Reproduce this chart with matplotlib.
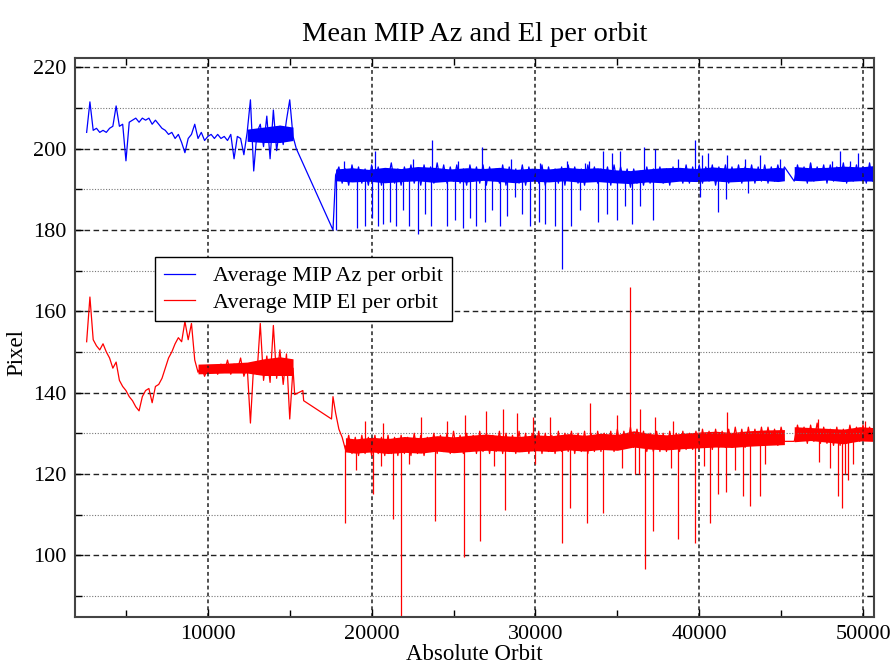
import numpy as np
import matplotlib
matplotlib.use('Agg')
import matplotlib.pyplot as plt
from matplotlib.ticker import MultipleLocator

plt.rcParams['font.family'] = ['Liberation Serif', 'DejaVu Serif']

# orbit sampling: one mean value every 200 orbits, data gaps left out
early_orbits = np.arange(2600, 15201, 200)
late_orbits_a = np.arange(17800, 45201, 200)
late_orbits_b = np.arange(45800, 50601, 200)

# ---- mean MIP azimuth (pixel) ----
az_early = [
    204.0, 211.5, 204.5, 205.0, 204.0, 204.5, 204.0, 205.0, 205.5, 210.5,
    205.5, 206.0, 197.0, 206.5, 207.0, 207.5, 206.5, 207.5, 207.0, 207.5,
    206.0, 207.0, 206.0, 205.0, 204.5, 203.5, 204.0, 202.5, 203.5, 201.5,
    199.0, 202.5, 203.5, 206.0, 202.5, 204.0, 202.0, 203.0, 203.5, 202.5,
    203.5, 202.5, 203.0, 202.0, 203.5, 197.5, 203.0, 202.5, 198.5, 204.0,
    212.0, 194.5, 204.0, 206.0, 200.5, 208.0, 197.5, 209.5, 199.5, 205.5,
    201.0, 207.0, 212.0, 203.0,
]
az_bridge_orbits = [15400, 17640]
az_bridge = [200.0, 180.0]
az_late_a = [
    193.5, 195.5, 191.5, 195.0, 191.0, 196.0, 192.0, 195.5, 191.5, 195.0,
    191.0, 196.0, 192.0, 195.5, 191.0, 195.0, 192.5, 196.5, 191.5, 195.0,
    191.0, 195.5, 192.0, 196.0, 191.5, 195.0, 191.0, 196.0, 192.0, 195.5,
    191.5, 196.5, 192.0, 196.0, 191.5, 195.5, 192.0, 196.0, 191.5, 195.0,
    191.0, 196.0, 192.0, 195.5, 191.5, 196.0, 191.0, 195.5, 192.0, 195.0,
    191.5, 196.0, 191.0, 195.5, 192.0, 195.0, 191.5, 196.0, 191.0, 195.5,
    192.0, 195.0, 191.5, 196.0, 191.0, 195.5, 192.0, 195.0, 191.5, 195.5,
    191.0, 196.0, 192.0, 195.5, 191.5, 195.0, 191.0, 196.0, 192.0, 195.5,
    191.5, 195.0, 192.0, 195.5, 191.0, 196.0, 191.5, 195.5, 192.0, 195.0,
    190.5, 195.0, 191.5, 194.5, 191.0, 195.5, 191.5, 195.0, 192.0, 195.5,
    191.5, 195.0, 191.0, 195.5, 192.0, 195.0, 191.5, 196.0, 191.5, 195.5,
    192.0, 196.0, 191.5, 195.5, 192.0, 196.0, 191.0, 195.5, 192.0, 196.0,
    191.5, 195.5, 192.0, 196.0, 191.5, 195.5, 192.0, 196.0, 191.5, 195.5,
    192.0, 196.0, 191.5, 195.5, 192.0, 196.0, 192.5, 195.5,
]
az_late_b = [
    192.0, 196.0, 192.5, 195.5, 191.5, 196.5, 192.0, 195.5, 192.5, 196.0,
    191.5, 196.0, 192.0, 195.5, 192.5, 196.5, 191.5, 195.5, 192.0, 196.0,
    192.5, 195.5, 191.5, 196.5, 192.0,
]

# dense core of the azimuth values (low / high edge)
az_core_early_orbits = [12400, 13400, 14400, 15200]
az_core_early_lo = [201.8, 201.5, 201.5, 202.0]
az_core_early_hi = [204.8, 205.3, 205.8, 205.3]
az_core_orbits = np.r_[np.arange(17800, 44801, 1000), 45200, 45800, 46800, 47800, 48800, 49800, 50600]
az_core_lo = [192.1, 191.8, 192.0, 191.6, 191.9, 192.1, 191.7, 192.0, 191.8, 192.2,
              191.9, 191.6, 192.0, 191.8, 192.1, 191.7, 191.9, 191.6, 191.4, 191.8,
              191.6, 192.0, 191.9, 192.1, 191.8, 192.0, 192.2, 191.9, 192.1,
              192.2, 192.0, 192.3, 191.9, 192.1, 192.0]
az_core_hi = [195.0, 195.3, 194.9, 195.4, 195.1, 195.6, 195.4, 195.0, 195.3, 195.1,
              195.4, 194.9, 195.2, 195.0, 195.4, 195.1, 195.3, 194.8, 194.6, 195.0,
              195.3, 195.4, 195.1, 195.5, 195.2, 195.4, 195.1, 195.4, 195.2,
              195.6, 195.3, 195.4, 195.7, 195.5, 195.8]

# single-orbit outliers of the azimuth
az_spike_orbits = [17850, 18300, 19100, 19600, 20000, 20200, 20400, 20700, 21100, 21500,
                   21900, 22300, 22500, 22850, 23250, 23650, 23700, 24600, 25100, 25300,
                   25600, 26000, 26400, 26750, 26900, 27350, 27850, 28250, 28500, 28750,
                   29150, 29650, 30200, 30300, 30600, 31200, 31600, 31900, 32200, 32700,
                   33000, 33250, 33850, 34150, 34350, 34650, 34950, 35150, 35450, 35900,
                   36400, 36600, 37200, 37300, 38700, 39750, 40050, 40200, 40550, 41150,
                   41650, 41700, 42800, 43000, 43700, 44950, 46750, 48100, 48600, 49200,
                   49700]
az_spikes = [180.0, 197.0, 180.5, 181.0, 183.0, 199.5, 181.0, 181.5, 182.0, 181.0,
             185.0, 181.0, 197.5, 179.0, 184.0, 181.0, 202.0, 181.0, 182.5, 197.0,
             180.5, 183.0, 181.0, 200.5, 182.0, 185.0, 181.0, 183.5, 197.5, 188.0,
             184.0, 181.0, 182.0, 196.5, 181.5, 181.0, 170.5, 197.0, 181.0, 185.0,
             196.5, 197.0, 182.0, 199.5, 184.0, 199.0, 182.5, 199.5, 186.0, 181.5,
             186.0, 200.5, 182.5, 200.0, 197.5, 202.0, 188.0, 198.5, 199.0, 184.5,
             187.5, 198.5, 197.5, 189.0, 198.5, 197.5, 196.5, 197.0, 199.5, 197.0,
             199.0]

# ---- mean MIP elevation (pixel) ----
el_early = [
    152.5, 163.5, 153.0, 151.5, 150.5, 152.0, 150.0, 148.5, 146.0, 147.5,
    143.0, 141.5, 140.5, 139.0, 138.0, 136.5, 135.5, 139.0, 140.5, 141.0,
    137.5, 141.5, 142.0, 143.5, 146.0, 148.5, 150.0, 152.0, 153.5, 152.5,
    157.5, 153.0, 157.0, 148.0, 145.0, 146.5, 144.0, 146.0, 145.0, 146.5,
    144.5, 147.0, 145.0, 148.0, 144.5, 147.0, 145.5, 148.5, 144.0, 146.5,
    132.5, 147.0, 144.5, 157.0, 143.0, 149.0, 142.5, 156.5, 143.5, 150.5,
    142.0, 149.5, 133.5, 146.0,
]
el_bridge_orbits = [15300, 15800, 15850, 17550, 17640]
el_bridge = [139.5, 140.5, 138.0, 133.5, 139.0]
el_late_a = [
    135.0, 131.0, 129.0, 126.0, 129.5, 125.0, 129.0, 124.5, 129.5, 125.0,
    129.0, 124.5, 129.5, 125.0, 129.0, 124.5, 129.5, 125.0, 129.0, 124.5,
    129.5, 125.0, 129.0, 124.5, 130.0, 125.0, 129.5, 124.5, 129.0, 125.5,
    130.0, 125.0, 129.5, 125.5, 130.0, 125.0, 130.5, 125.5, 129.5, 125.0,
    130.0, 125.5, 129.5, 125.0, 130.5, 125.5, 130.0, 125.0, 129.5, 125.5,
    130.5, 125.0, 130.0, 125.5, 129.5, 125.0, 130.5, 125.5, 130.0, 125.0,
    130.0, 125.5, 130.5, 125.0, 130.0, 125.5, 129.5, 125.0, 130.5, 125.5,
    130.0, 125.5, 130.5, 125.0, 130.0, 125.5, 130.5, 125.0, 130.0, 125.5,
    130.5, 125.5, 130.0, 126.0, 130.5, 125.5, 131.0, 126.0, 130.5, 126.5,
    131.5, 126.5, 131.0, 127.0, 130.5, 125.5, 130.0, 125.5, 130.5, 125.5,
    130.0, 125.5, 130.5, 126.0, 130.0, 125.5, 130.5, 126.0, 130.0, 126.0,
    130.5, 126.0, 131.0, 126.5, 130.5, 126.0, 131.0, 126.5, 130.5, 126.5,
    131.0, 126.5, 131.5, 127.0, 131.0, 126.5, 131.5, 127.0, 131.0, 127.0,
    131.5, 127.0, 131.5, 127.5, 131.0, 127.0, 131.5, 128.0,
]
el_late_b = [
    128.0, 132.0, 128.5, 131.5, 127.5, 132.0, 128.0, 132.5, 127.5, 131.5,
    127.5, 131.0, 127.0, 131.5, 127.0, 131.0, 127.5, 132.0, 128.0, 131.5,
    128.0, 132.0, 128.5, 131.5, 129.0,
]

# dense core of the elevation values
el_core_early_orbits = [9400, 11000, 12400, 13400, 14400, 15200]
el_core_early_lo = [144.6, 144.8, 144.8, 144.2, 144.2, 144.2]
el_core_early_hi = [147.0, 147.2, 147.5, 148.3, 148.8, 148.3]
el_core_orbits = np.r_[18400, np.arange(19000, 44801, 1000), 45200, 45800, 46800, 47800, 48800, 49800, 50600]
el_core_lo = [125.4, 125.1, 125.4, 125.0, 125.3, 125.1, 125.6, 125.2, 125.5, 125.8,
              125.6, 125.4, 125.7, 125.5, 125.9, 125.6, 126.0, 125.8, 126.6, 126.1,
              125.9, 126.2, 126.4, 126.6, 126.5, 126.8, 127.0, 127.2,
              127.9, 128.2, 127.8, 127.4, 128.1, 128.0]
el_core_hi = [128.9, 128.6, 129.0, 128.7, 129.2, 128.9, 129.4, 129.1, 129.5, 129.8,
              129.4, 129.2, 129.6, 129.4, 129.9, 129.5, 130.0, 129.7, 130.6, 129.9,
              129.6, 130.0, 130.3, 130.5, 130.2, 130.6, 130.8, 130.9,
              131.6, 131.4, 131.2, 131.0, 131.6, 131.4]

# single-orbit outliers of the elevation
el_spike_orbits = [18400, 19050, 19600, 20100, 20600, 20700, 21300, 21800, 22300, 23000,
                   23850, 24600, 25650, 25700, 26600, 27000, 27500, 28000, 28150, 28850,
                   29850, 30000, 30900, 31600, 32100, 33150, 33350, 34150, 35000, 35300,
                   35750, 36050, 36300, 36400, 36700, 37150, 37300, 38300, 38400, 38700,
                   39750, 40300, 40650, 41150, 41650, 41700, 42200, 42650, 43100, 43700,
                   44000, 47250, 47300, 48000, 48450, 48700, 48900, 49100, 49400, 50100]
el_spikes = [108.0, 121.0, 133.0, 115.0, 122.0, 132.5, 109.0, 80.0, 122.5, 134.0,
             108.5, 133.0, 99.5, 134.5, 103.5, 135.5, 122.0, 136.0, 111.0, 135.0,
             134.0, 122.5, 134.0, 103.0, 111.5, 108.0, 137.5, 110.5, 134.5, 121.5,
             166.0, 120.0, 120.0, 136.0, 96.5, 106.0, 134.0, 121.5, 133.0, 104.0,
             103.0, 122.0, 108.0, 115.0, 115.5, 135.2, 121.0, 114.5, 112.0, 114.5,
             122.5, 133.5, 123.0, 121.5, 114.5, 111.5, 120.0, 118.5, 122.5, 133.0]

az_orbits = np.concatenate([early_orbits, az_bridge_orbits, late_orbits_a, late_orbits_b])
az_values = np.concatenate([az_early, az_bridge, az_late_a, az_late_b])
el_orbits = np.concatenate([early_orbits, el_bridge_orbits, late_orbits_a, late_orbits_b])
el_values = np.concatenate([el_early, el_bridge, el_late_a, el_late_b])

AZ_COLOR = '#0000ff'
EL_COLOR = '#ff0000'


def draw_core(ax, orbits, lo, hi, color, gap=(45200, 45800)):
    orbits = np.asarray(orbits)
    lo = np.asarray(lo)
    hi = np.asarray(hi)
    for part in (orbits <= gap[0], orbits >= gap[1]):
        if part.any():
            ax.fill_between(orbits[part], lo[part], hi[part], color=color, lw=0)


def draw_spikes(ax, orbits, values, core_orbits, lo, hi, color):
    mid = (np.asarray(lo) + np.asarray(hi)) / 2
    base = np.interp(orbits, core_orbits, mid)
    ax.vlines(orbits, base, values, color=color, lw=0.9)


fig = plt.figure(figsize=(8.92, 6.64), dpi=100)
ax = fig.add_axes([0.0841, 0.0708, 0.8957, 0.8419])

ax.plot(az_orbits, az_values, color=AZ_COLOR, lw=0.9, label='Average MIP Az per orbit')
ax.plot(el_orbits, el_values, color=EL_COLOR, lw=0.9, label='Average MIP El per orbit')

ax.fill_between(az_core_early_orbits, az_core_early_lo, az_core_early_hi, color=AZ_COLOR, lw=0)
ax.fill_between(el_core_early_orbits, el_core_early_lo, el_core_early_hi, color=EL_COLOR, lw=0)
draw_core(ax, az_core_orbits, az_core_lo, az_core_hi, AZ_COLOR)
draw_core(ax, el_core_orbits, el_core_lo, el_core_hi, EL_COLOR)
draw_spikes(ax, az_spike_orbits, az_spikes, az_core_orbits, az_core_lo, az_core_hi, AZ_COLOR)
draw_spikes(ax, el_spike_orbits, el_spikes, el_core_orbits, el_core_lo, el_core_hi, EL_COLOR)

ax.set_xlim(1890, 50670)
ax.set_ylim(84.8, 222.3)
ax.set_xticks([10000, 20000, 30000, 40000, 50000])
ax.set_yticks(np.arange(100, 221, 20))
ax.xaxis.set_minor_locator(MultipleLocator(5000))
ax.yaxis.set_minor_locator(MultipleLocator(10))

ax.yaxis.grid(True, which='major', linestyle=(0, (4, 2.5)), color='#222222', lw=1.0)
ax.yaxis.grid(True, which='minor', linestyle=(0, (1, 1.5)), color='#777777', lw=0.8)
ax.xaxis.grid(True, which='major', linestyle=(0, (2.5, 2)), color='#222222', lw=1.1)

ax.tick_params(which='both', direction='in', top=True, right=True, labelsize=16, pad=6)
ax.tick_params(which='major', length=6, width=1)
ax.tick_params(which='minor', length=5, width=1)
for spine in ax.spines.values():
    spine.set_linewidth(1.5)
    spine.set_color('#444444')

ax.set_title('Mean MIP Az and El per orbit', fontsize=20.5, pad=12)
ax.set_xlabel('Absolute Orbit', fontsize=16.5, labelpad=0)
ax.set_ylabel('Pixel', fontsize=16.5)
ax.yaxis.set_label_coords(-0.06, 0.474)

leg = ax.legend(loc='upper left', bbox_to_anchor=(0.1, 0.644), borderaxespad=0,
                fancybox=False, framealpha=1, edgecolor='black', fontsize=16,
                handlelength=1.4, borderpad=0.4, labelspacing=0.25)
leg.get_frame().set_linewidth(1.0)

fig.savefig('out.png', dpi=100)
